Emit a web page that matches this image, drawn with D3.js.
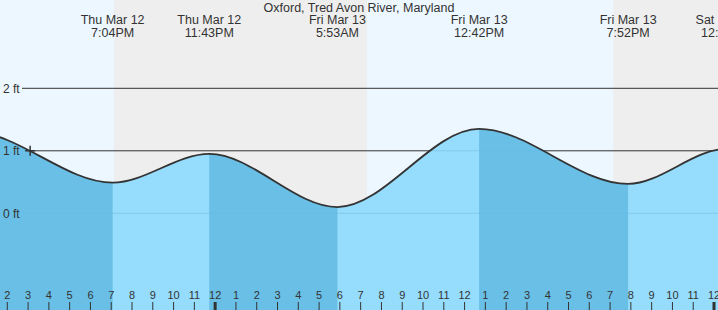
<!DOCTYPE html>
<html>
<head>
<meta charset="utf-8">
<script src="https://cdn.jsdelivr.net/npm/d3@7"></script>
<style>
  body { margin: 0; background: #fff; }
  svg { display: block; font-family: "Liberation Sans", Arial, sans-serif; }
</style>
</head>
<body>
<svg id="tide-svg"></svg>
<script>
const width = 718;
const height = 310;

// hours counted from Thu Mar 12 00:00 (first and last two are off the chart)
const tideHours = [6.1, 12.3, 19.067, 23.717, 29.883, 36.7, 43.867, 48.583, 55.0];
const tideFeet = [0.25, 1.30, 0.49, 0.95, 0.10, 1.35, 0.47, 1.03, 0.20];
const tideDays = ['Thu Mar 12', 'Thu Mar 12', 'Thu Mar 12', 'Thu Mar 12', 'Fri Mar 13', 'Fri Mar 13', 'Fri Mar 13', 'Sat Mar 14', 'Sat Mar 14'];
const tideTimes = ['6:06AM', '12:18PM', '7:04PM', '11:43PM', '5:53AM', '12:42PM', '7:52PM', '12:35AM', '7:00AM'];
const nightStart = [19.13, 43.15];
const nightEnd = [31.30, 55.30];
const feetTicks = [0, 1, 2];
const hourTicks = d3.range(14, 49);
const nowHour = 15.1;
const nowFeet = 1.0;

const svg = d3.select('#tide-svg')
  .attr('width', width)
  .attr('height', height);

const x = d3.scaleLinear().domain([13.649, 48.192]).range([0, width]);
const y = d3.scaleLinear().domain([0, 2]).range([213.3, 88.3]);

const tide = tideHours.map((h, i) => ({ h: h, ft: tideFeet[i], day: tideDays[i], time: tideTimes[i] }));

// day and night background
svg.append('rect')
  .attr('width', width)
  .attr('height', height)
  .attr('fill', '#edf7ff');

svg.selectAll('.night')
  .data(nightStart)
  .enter()
  .append('rect')
  .attr('class', 'night')
  .attr('x', d => x(d))
  .attr('y', 0)
  .attr('width', (d, i) => x(nightEnd[i]) - x(d))
  .attr('height', height)
  .attr('fill', '#eeeeee');

// feet grid lines
svg.selectAll('.grid')
  .data(feetTicks)
  .enter()
  .append('line')
  .attr('class', 'grid')
  .attr('x1', 22)
  .attr('x2', width)
  .attr('y1', d => y(d))
  .attr('y2', d => y(d))
  .attr('stroke', '#333')
  .attr('stroke-width', 1);

// water
const area = d3.area()
  .x(d => x(d.h))
  .y0(height)
  .y1(d => y(d.ft))
  .curve(d3.curveMonotoneX);

const line = d3.line()
  .x(d => x(d.h))
  .y(d => y(d.ft))
  .curve(d3.curveMonotoneX);

// falling tide (high -> low) gets the darker blue
const falling = d3.range(0, tide.length - 1).filter(i => tide[i].ft > tide[i + 1].ft);

const clip = svg.append('clipPath').attr('id', 'falling-clip');
clip.selectAll('rect')
  .data(falling)
  .enter()
  .append('rect')
  .attr('x', i => x(tide[i].h))
  .attr('y', 0)
  .attr('width', i => x(tide[i + 1].h) - x(tide[i].h))
  .attr('height', height);

svg.append('path')
  .datum(tide)
  .attr('d', area)
  .attr('fill', 'rgb(140,217,253)')
  .attr('fill-opacity', 0.9);

svg.append('path')
  .datum(tide)
  .attr('d', area)
  .attr('clip-path', 'url(#falling-clip)')
  .attr('fill', 'rgb(100,187,227)')
  .attr('fill-opacity', 0.9);

svg.append('path')
  .datum(tide)
  .attr('d', line)
  .attr('fill', 'none')
  .attr('stroke', '#333')
  .attr('stroke-width', 1.8);

svg.selectAll('.ftlabel')
  .data(feetTicks)
  .enter()
  .append('text')
  .attr('class', 'ftlabel')
  .attr('x', 3)
  .attr('y', d => y(d) + 4.3)
  .attr('font-size', '12px')
  .attr('fill', '#333')
  .text(d => d + ' ft');

// current time marker
svg.append('path')
  .attr('d', `M${x(nowHour) - 5},${y(nowFeet)}h10M${x(nowHour)},${y(nowFeet) - 5}v10`)
  .attr('stroke', '#333')
  .attr('stroke-width', 1.5);

// hour ticks along the bottom
svg.selectAll('.tick')
  .data(hourTicks)
  .enter()
  .append('line')
  .attr('class', 'tick')
  .attr('x1', d => x(d))
  .attr('x2', d => x(d))
  .attr('y1', 302)
  .attr('y2', height)
  .attr('stroke', '#333')
  .attr('stroke-width', d => d % 24 === 0 ? 3 : 1);

svg.selectAll('.hour')
  .data(hourTicks)
  .enter()
  .append('text')
  .attr('class', 'hour')
  .attr('x', d => x(d))
  .attr('y', 299)
  .attr('text-anchor', 'middle')
  .attr('font-size', '11px')
  .attr('fill', '#333')
  .text(d => (d % 12) || 12);

// title and tide labels
svg.append('text')
  .attr('x', 359)
  .attr('y', 12)
  .attr('text-anchor', 'middle')
  .attr('font-size', '12.5px')
  .attr('fill', '#333')
  .text('Oxford, Tred Avon River, Maryland');

const labels = svg.selectAll('.tidelabel')
  .data(tide.filter(d => x(d.h) > 0 && x(d.h) < width + 40))
  .enter()
  .append('text')
  .attr('class', 'tidelabel')
  .attr('text-anchor', 'middle')
  .attr('font-size', '12.5px')
  .attr('fill', '#333');

labels.append('tspan')
  .attr('x', d => x(d.h))
  .attr('y', 24)
  .text(d => d.day);

labels.append('tspan')
  .attr('x', d => x(d.h))
  .attr('y', 36.5)
  .text(d => d.time);
</script>
</body>
</html>
